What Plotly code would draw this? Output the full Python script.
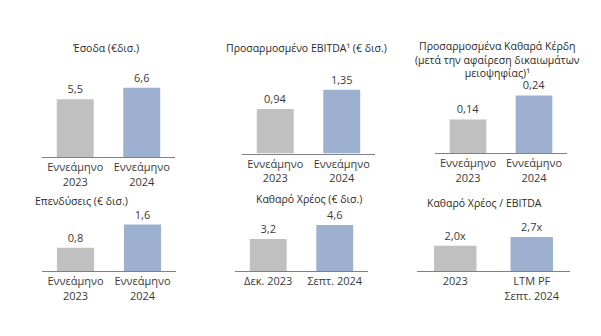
import plotly.graph_objects as go

W, H = 601, 336

titles = [
    "Έσοδα (€δισ.)",
    "Προσαρμοσμένο EBITDA¹ (€ δισ.)",
    "Προσαρμοσμένα Καθαρά Κέρδη<br>(μετά την αφαίρεση δικαιωμάτων<br>μειοψηφίας)¹",
    "Επενδύσεις (€ δισ.)",
    "Καθαρό Χρέος (€ δισ.)",
    "Καθαρό Χρέος / EBITDA",
]
categories = [
    ["Εννεάμηνο<br>2023", "Εννεάμηνο<br>2024"],
    ["Εννεάμηνο<br>2023", "Εννεάμηνο<br>2024"],
    ["Εννεάμηνο<br>2023", "Εννεάμηνο<br>2024"],
    ["Εννεάμηνο<br>2023", "Εννεάμηνο<br>2024"],
    ["Δεκ. 2023", "Σεπτ. 2024"],
    ["2023", "LTM PF<br>Σεπτ. 2024"],
]
values = [
    [5.5, 6.6],
    [0.94, 1.35],
    [0.14, 0.24],
    [0.8, 1.6],
    [3.2, 4.6],
    [2.0, 2.7],
]
labels = [
    ["5,5", "6,6"],
    ["0,94", "1,35"],
    ["0,14", "0,24"],
    ["0,8", "1,6"],
    ["3,2", "4,6"],
    ["2,0x", "2,7x"],
]

colors = ["#c0c0c0", "#9db0cf"]
FONT = "Open Sans"
TXT = "#3a3a3a"

# panel geometry in pixels: x0, x1, plot top, baseline, px per unit
panels = [
    (42, 175, 40, 157, 10.5),
    (242, 375, 40, 153.5, 47.3),
    (435, 567, 40, 153, 240),
    (42, 176, 200, 271, 29.0),
    (235, 368, 200, 271, 10.0),
    (417, 570, 200, 271, 12.6),
]
# title positions (center x, center y)
title_pos = [(105, 48), (306, 48), (497, 59), (81, 201), (309, 199), (485, 203)]

fig = go.Figure()
for i in range(6):
    x0, x1, top, base, scale = panels[i]
    n = "" if i == 0 else str(i + 1)
    fig.add_trace(go.Bar(
        x=categories[i], y=values[i], text=labels[i],
        textposition="outside", cliponaxis=False,
        textfont=dict(family=FONT, size=11, color=TXT),
        marker=dict(color=colors, line=dict(width=0)),
        width=0.555, xaxis="x" + n, yaxis="y" + n, showlegend=False,
        hoverinfo="skip",
    ))
    fig.layout["xaxis" + n] = dict(
        domain=[x0 / W, x1 / W], anchor="y" + n, type="category",
        range=[-0.5, 1.5], showline=True, linecolor="#7d8089", linewidth=1,
        ticks="", showgrid=False, zeroline=False,
        tickfont=dict(family=FONT, size=11, color=TXT),
    )
    fig.layout["yaxis" + n] = dict(
        domain=[1 - base / H, 1 - top / H], anchor="x" + n,
        range=[0, (base - top) / scale], visible=False, showgrid=False,
    )
    tx, ty = title_pos[i]
    fig.add_annotation(
        x=tx / W, y=1 - ty / H, xref="paper", yref="paper",
        text=titles[i], showarrow=False, xanchor="center", yanchor="middle",
        font=dict(family=FONT, size=10.5, color="#2a2a2a"), align="center",
    )

fig.update_layout(
    width=W, height=H, margin=dict(l=0, r=0, t=0, b=0),
    paper_bgcolor="white", plot_bgcolor="white", bargap=0.45,
)
fig.write_html("out.html")
